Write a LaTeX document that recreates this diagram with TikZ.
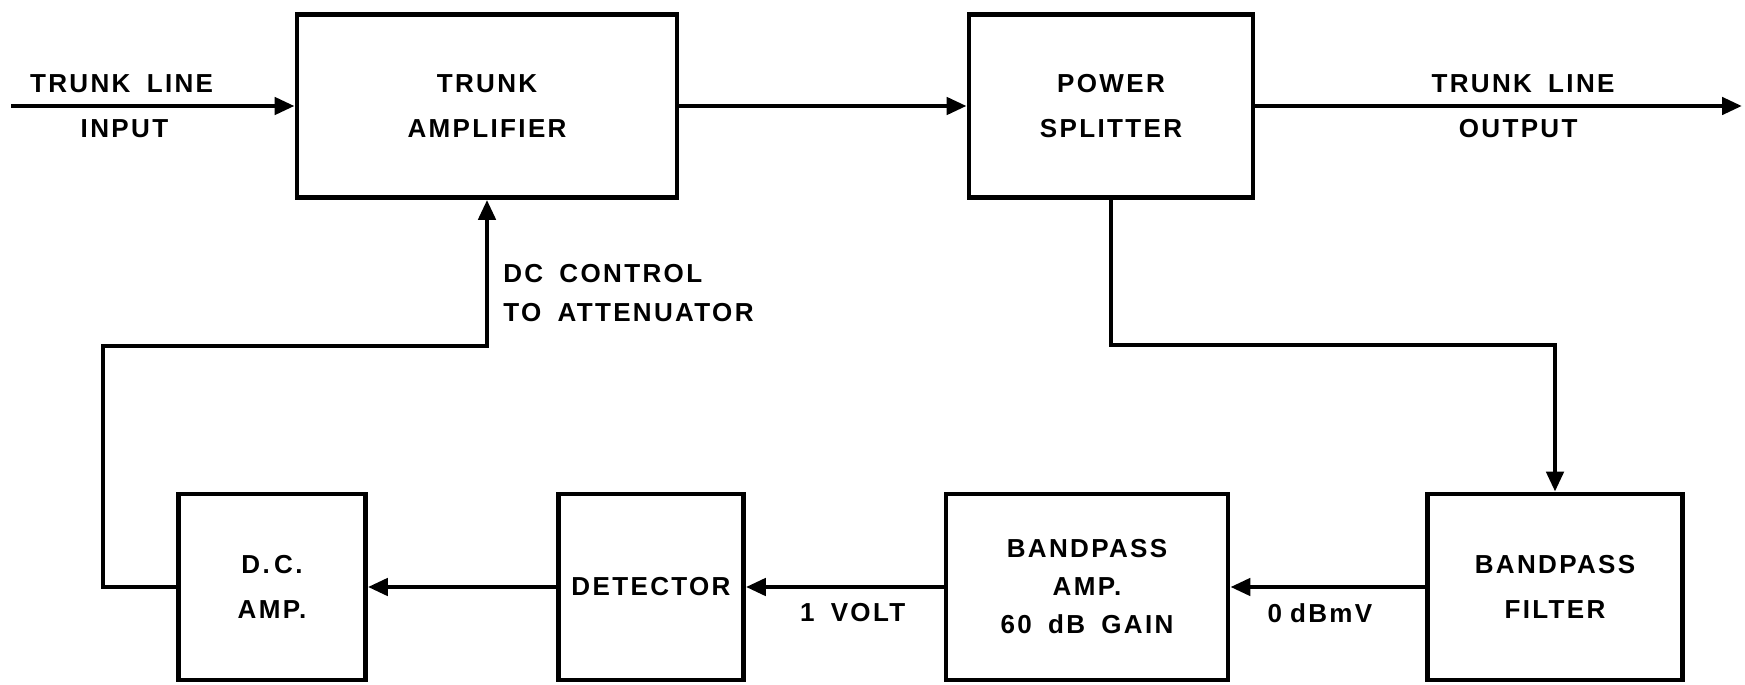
\documentclass[tikz,border=0pt]{standalone}
\usepackage{fontspec}
\newfontfamily\rotulo{Liberation Sans}[LetterSpace=9, WordSpace=1.7]
\usetikzlibrary{arrows.meta}

\begin{document}
\begin{tikzpicture}[x=0.01cm, y=-0.01cm,
    bloque/.style={draw, line width=1.3pt, rectangle, align=center, inner sep=0pt,
        minimum height=1.86cm, font=\rotulo\bfseries\fontsize{7.4}{13}\selectfont},
    flecha/.style={line width=1.3pt, -{Triangle[length=2mm, width=1.7mm]}},
    etiq/.style={font=\rotulo\bfseries\fontsize{7.4}{11}\selectfont, inner sep=1.1mm}]
    % Fijar los limites del dibujo
    \useasboundingbox (0,0) rectangle (1745,685);

    % Bloques de la linea troncal
    \node[bloque, minimum width=3.80cm, minimum height=1.83cm] (TA) at (487,106) {TRUNK\\AMPLIFIER};
    \node[bloque, minimum width=2.84cm, minimum height=1.83cm] (PS) at (1111,106) {POWER\\SPLITTER};

    % Bloques del lazo de control
    \node[bloque, minimum width=1.87cm] (DCA) at (272,587) {D.\,C.\\AMP.};
    \node[bloque, minimum width=1.85cm] (DET) at (651,587) {DETECTOR};
    \node[bloque, minimum width=2.82cm, font=\rotulo\bfseries\fontsize{7.4}{10.8}\selectfont] (BPA) at (1087,587) {BANDPASS\\AMP.\\60 dB GAIN};
    \node[bloque, minimum width=2.55cm] (BPF) at (1555,587) {BANDPASS\\FILTER};

    % Puntos auxiliares
    \coordinate (IN) at (11,106);
    \coordinate (OUT) at (1742,106);
    \coordinate (S1) at (1555,345);
    \coordinate (F1) at (103,346);

    % Entrada y salida de la linea troncal
    \draw[flecha] (IN) -- (TA) node[etiq, pos=0.39, above]{TRUNK LINE} node[etiq, pos=0.4, below]{INPUT};
    \draw[flecha] (TA) -- (PS);
    \draw[flecha] (PS) -- (OUT) node[etiq, pos=0.55, above]{TRUNK LINE} node[etiq, pos=0.54, below]{OUTPUT};

    % Derivacion hacia el filtro
    \draw[flecha] (PS.south) |- (S1) -- (BPF.north);

    % Cadena de deteccion
    \draw[flecha] (BPF) -- (BPA) node[etiq, pos=0.54, below, inner sep=1.4mm]{0\hspace{0.3em}dBmV};
    \draw[flecha] (BPA) -- (DET) node[etiq, pos=0.46, below, inner sep=1.4mm]{1 VOLT};
    \draw[flecha] (DET) -- (DCA);

    % Realimentacion al atenuador
    \draw[flecha] (DCA.west) -| (F1) -| (TA.south) node[etiq, pos=0.68, right, align=left, inner sep=1.4mm]{DC CONTROL\\TO ATTENUATOR};

\end{tikzpicture}
\end{document}
